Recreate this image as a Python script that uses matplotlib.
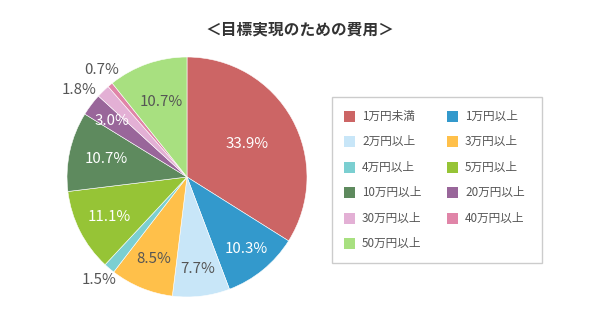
import matplotlib
matplotlib.use("Agg")
import numpy as np
import matplotlib.pyplot as plt
from matplotlib.patches import Rectangle

plt.rcParams['font.family'] = ['Noto Sans CJK JP', 'DejaVu Sans']

title = "＜目標実現のための費用＞"
labels = ["1万円未満", "1万円以上", "2万円以上", "3万円以上", "4万円以上", "5万円以上",
          "10万円以上", "20万円以上", "30万円以上", "40万円以上", "50万円以上"]
shares = [33.9, 10.3, 7.7, 8.5, 1.5, 11.1, 10.7, 3.0, 1.8, 0.7, 10.7]
colors = ["#cc6565", "#3399cc", "#c8e6f8", "#ffc04a", "#7bcfd1", "#96c436",
          "#5e8a5e", "#99669a", "#e3b0d5", "#e085a8", "#a8e080"]
# label colour, radial distance, angle nudge (deg) and alignment per slice
txt_col = ["white", "white", "#555555", "#555555", "#555555", "white",
           "white", "white", "#555555", "#555555", "#555555"]
txt_r = [0.57, 0.78, 0.77, 0.74, 1.13, 0.73, 0.69, 0.78, 1.045, 1.14, 0.66]
txt_da = [0, 0, 0, 0, 0, 0, 0, 0, 2.0, -1.0, 0]
txt_ha = ["center"] * 8 + ["right", "center", "center"]

fig = plt.figure(figsize=(6, 3.22), dpi=100)
fig.text(0.5, 1 - 29 / 322, title, ha='center', va='center', fontsize=11.3,
         fontweight='bold', color='#333333')

ax = fig.add_axes([67 / 600, 25 / 322, 240 / 600, 240 / 322])
wedges, _ = ax.pie(shares, colors=colors, startangle=90, counterclock=False,
                   wedgeprops=dict(edgecolor='white', linewidth=0.4))
ax.set_aspect('equal')
ax.set_xlim(-1, 1)
ax.set_ylim(-1, 1)

for w, v, c, r, da, ha in zip(wedges, shares, txt_col, txt_r, txt_da, txt_ha):
    mid = np.deg2rad((w.theta1 + w.theta2) / 2 + da)
    ax.text(r * np.cos(mid), r * np.sin(mid), "%.1f%%" % v, ha=ha, va='center',
            fontsize=10.8, color=c, clip_on=False)

# legend box, two columns
lax = fig.add_axes([0, 0, 1, 1])
lax.set_xlim(0, 600)
lax.set_ylim(322, 0)
lax.axis('off')
lax.add_patch(Rectangle((332, 97), 210, 166, fill=False, edgecolor='#cccccc', lw=1))
for i, (lab, col) in enumerate(zip(labels, colors)):
    row, colm = divmod(i, 2)
    x0 = 344 + colm * 103
    y0 = 116 + row * 25.5
    lax.add_patch(Rectangle((x0, y0 - 5.5), 11, 11, facecolor=col, edgecolor='none'))
    lax.text(x0 + 18, y0, lab, ha='left', va='center', fontsize=8.4, color='#555555')

fig.savefig("out.png", dpi=100)
